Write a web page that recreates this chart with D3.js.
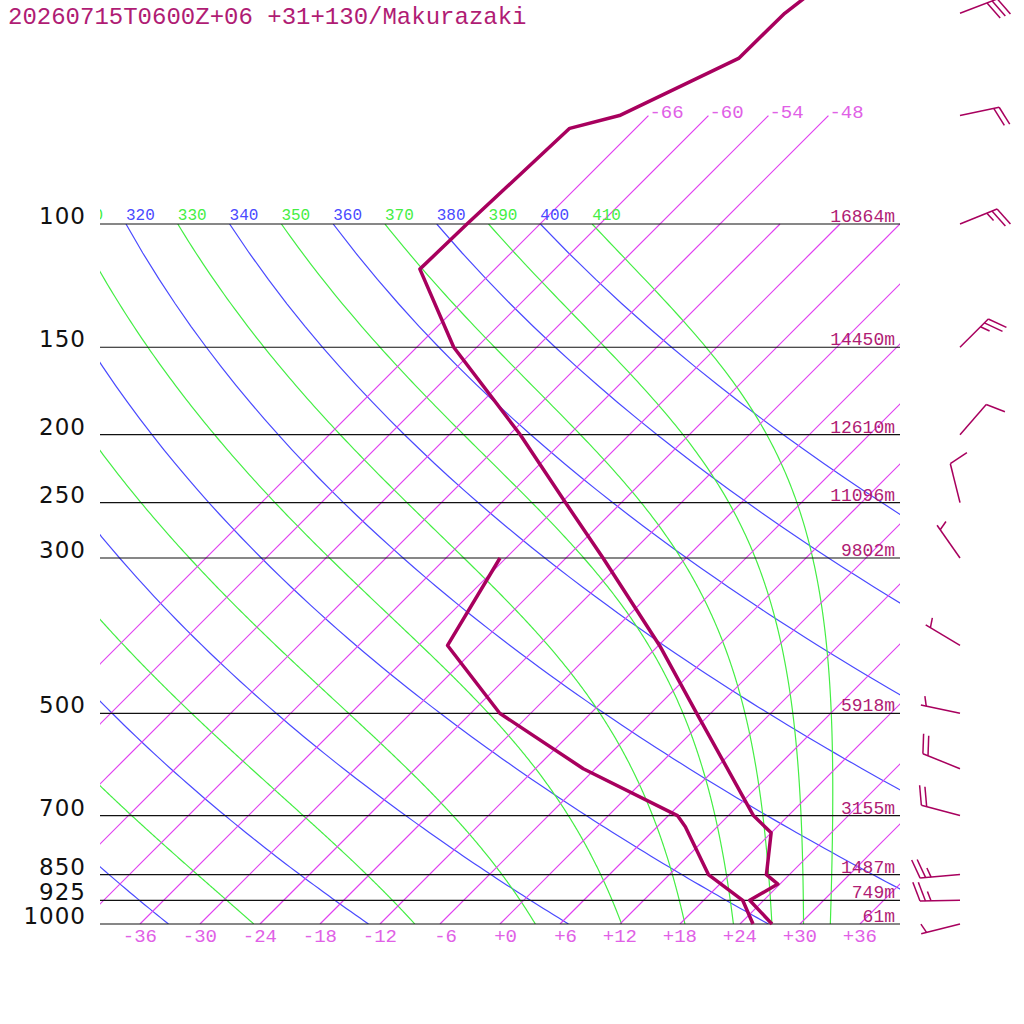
<!DOCTYPE html>
<html>
<head>
<meta charset="utf-8">
<script src="https://cdn.jsdelivr.net/npm/d3@7"></script>
<style>
  body { margin: 0; background: #fff; }
  text { font-family: "Liberation Mono", monospace; }
</style>
</head>
<body>
<div id="chart"></div>
<script>
// title
var title = "20260715T0600Z+06 +31+130/Makurazaki";

// temperature profile (hPa, degC)
var tempP = [1000, 925, 877, 850, 741, 700, 500, 400, 300, 250, 200, 150, 116, 100, 73, 70, 58, 50, 30];
var tempT = [27.2, 22.6, 23.8, 21.7, 18.0, 14.5, -1.4, -11.9, -26.3, -35.6, -46.9, -62.3, -73.5, -73.3, -72.6, -68.9, -62.7, -62.6, -58.0];

// dewpoint profile
var dewP = [1000, 925, 850, 726, 700, 600, 500, 400, 300];
var dewT = [25.3, 21.9, 15.9, 8.8, 6.9, -7.2, -21.1, -33.1, -36.6];

// isobars with their labels and heights
var isobars = [1000, 925, 850, 700, 500, 300, 250, 200, 150, 100];
var heights = ["61m", "749m", "1487m", "3155m", "5918m", "9802m", "11096m", "12610m", "14450m", "16864m"];

// wind barbs
var windP = [50, 70, 100, 150, 200, 250, 300, 400, 500, 600, 700, 850, 925, 1000];
var windDir = [69, 78, 68, 45, 41, 346, 325, 301, 282, 292, 285, 265, 269, 256];
var windSpd = [30, 20, 25, 25, 10, 10, 5, 5, 5, 20, 20, 25, 25, 5];

// grid lines
var isotherms = [-66, -60, -54, -48, -42, -36, -30, -24, -18, -12, -6, 0, 6, 12, 18, 24, 30, 36];
var isoTopLabels = [-66, -60, -54, -48];
var isoBottomLabels = [-36, -30, -24, -18, -12, -6, 0, 6, 12, 18, 24, 30, 36];
var dryTheta = [240, 260, 280, 300, 320, 340, 360, 380, 400];
var moistTheta = [250, 270, 290, 310, 330, 350, 370, 390, 410];

var svgWidth = 1024, svgHeight = 1024;
var plot = { left: 100, right: 900, top: 224, bottom: 924 };

var red = "#a8005e", txtRed = "#b01c74", magenta = "#e040f0", labelPink = "#e060e6", blue = "#4a4aff", green = "#44ee44";

var svg = d3.select("#chart").append("svg")
  .attr("width", svgWidth)
  .attr("height", svgHeight)
  .style("background", "#fff");

// log pressure scale and temperature scale (skewed 45 degrees)
var y = d3.scaleLog().domain([1000, 100]).range([plot.bottom, plot.top]);
var x = d3.scaleLinear().domain([-40, 40]).range([plot.left, plot.right]);
function sx(t, p) { return x(t) + (y(1000) - y(p)); }

var pathGen = d3.line()
  .x(d => sx(d.t, d.p))
  .y(d => y(d.p));

var defs = svg.append("defs");
defs.append("clipPath").attr("id", "gridClip")
  .append("rect").attr("x", plot.left).attr("y", plot.top).attr("width", plot.right - plot.left).attr("height", plot.bottom - plot.top);
defs.append("clipPath").attr("id", "labelClip")
  .append("rect").attr("x", plot.left).attr("y", 0).attr("width", plot.right - plot.left).attr("height", plot.bottom);

var KAPPA = 0.2857;

// dry adiabat points
function dryPoints(theta) {
  var pts = [];
  for (var p = 100; p <= 1000; p += 10) {
    pts.push({ p: p, t: theta * Math.pow(p / 1000, KAPPA) - 273.15 });
  }
  return pts;
}

// saturated lapse rate dT/dp
function lapse(p, T) {
  var tc = T - 273.15;
  var es = 6.112 * Math.exp(17.67 * tc / (tc + 243.5));
  var rs = 0.622 * es / (p - es);
  return (287.04 * T + 2.501e6 * rs) / (p * (1005.7 + 2.501e6 * 2.501e6 * rs * 0.622 / (287.04 * T * T)));
}

// pseudo adiabat, integrated down from 100 hPa
function moistPoints(theta) {
  var p = 100, T = theta * Math.pow(p / 1000, KAPPA), dp = 2;
  var pts = [{ p: p, t: T - 273.15 }];
  while (p < 1000) {
    var k1 = lapse(p, T);
    var k2 = lapse(p + dp / 2, T + k1 * dp / 2);
    T += k2 * dp;
    p += dp;
    pts.push({ p: p, t: T - 273.15 });
  }
  return pts;
}

var grid = svg.append("g").attr("clip-path", "url(#gridClip)");

// dry adiabats
grid.selectAll("path.dry")
  .data(dryTheta)
  .enter()
  .append("path")
  .attr("class", "dry")
  .attr("d", d => pathGen(dryPoints(d)))
  .style("fill", "none")
  .style("stroke", blue)
  .style("stroke-width", 1.2);

// moist adiabats
grid.selectAll("path.moist")
  .data(moistTheta)
  .enter()
  .append("path")
  .attr("class", "moist")
  .attr("d", d => pathGen(moistPoints(d)))
  .style("fill", "none")
  .style("stroke", green)
  .style("stroke-width", 1.2);

// isotherms, the coldest ones run up to 70 hPa
function isoTop(t) { return isoTopLabels.indexOf(t) >= 0 ? 70 : 100; }

var isoGroup = svg.append("g").attr("clip-path", "url(#labelClip)");
isoGroup.selectAll("path.iso")
  .data(isotherms)
  .enter()
  .append("path")
  .attr("class", "iso")
  .attr("d", d => pathGen([{ p: 1000, t: d }, { p: isoTop(d), t: d }]))
  .style("fill", "none")
  .style("stroke", magenta)
  .style("stroke-width", 1.2);

// isobars
svg.selectAll("line.isobar")
  .data(isobars)
  .enter()
  .append("line")
  .attr("class", "isobar")
  .attr("x1", plot.left)
  .attr("x2", plot.right)
  .attr("y1", d => y(d))
  .attr("y2", d => y(d))
  .style("stroke", "#111")
  .style("stroke-width", 1.2);

// pressure labels
svg.selectAll("text.plabel")
  .data(isobars)
  .enter()
  .append("text")
  .attr("class", "plabel")
  .attr("x", 86)
  .attr("y", d => y(d))
  .attr("text-anchor", "end")
  .style("font-family", "'DejaVu Sans', sans-serif")
  .style("font-size", "23px")
  .style("letter-spacing", "1px")
  .style("fill", "#111")
  .text(d => d);

// height labels
svg.selectAll("text.hlabel")
  .data(isobars)
  .enter()
  .append("text")
  .attr("class", "hlabel")
  .attr("x", 895)
  .attr("y", d => y(d) - 2)
  .attr("text-anchor", "end")
  .style("font-size", "18px")
  .style("fill", txtRed)
  .text((d, i) => heights[i]);

// theta labels above 100 hPa
var thetaLabels = dryTheta.concat(moistTheta)
  .sort((a, b) => a - b)
  .filter(d => sx(d * Math.pow(0.1, KAPPA) - 273.15, 100) > 60);

svg.append("g").attr("clip-path", "url(#labelClip)")
  .selectAll("text")
  .data(thetaLabels)
  .enter()
  .append("text")
  .attr("x", d => sx(d * Math.pow(0.1, KAPPA) - 273.15, 100))
  .attr("y", y(100) - 4)
  .style("font-size", "16px")
  .style("fill", d => dryTheta.indexOf(d) >= 0 ? blue : green)
  .text(d => d);

function fmt(t) { return (t < 0 ? "-" : "+") + Math.abs(t); }

// isotherm labels at the top
svg.selectAll("text.toplabel")
  .data(isoTopLabels)
  .enter()
  .append("text")
  .attr("class", "toplabel")
  .attr("x", d => sx(d, 70) + 1)
  .attr("y", y(70) + 2)
  .style("font-size", "19px")
  .style("fill", labelPink)
  .text(fmt);

// temperature axis labels (3 char wide, centred)
svg.selectAll("text.botlabel")
  .data(isoBottomLabels)
  .enter()
  .append("text")
  .attr("class", "botlabel")
  .attr("x", d => x(d) + 17)
  .attr("y", 942)
  .attr("text-anchor", "end")
  .style("font-size", "19px")
  .style("fill", labelPink)
  .text(fmt);

// sounding lines
var tempData = tempP.map((p, i) => ({ p: p, t: tempT[i] }));
var dewData = dewP.map((p, i) => ({ p: p, t: dewT[i] }));

svg.append("path")
  .attr("d", pathGen(dewData))
  .style("fill", "none")
  .style("stroke", red)
  .style("stroke-width", 3.5)
  .style("stroke-linejoin", "round");

svg.append("path")
  .attr("d", pathGen(tempData))
  .style("fill", "none")
  .style("stroke", red)
  .style("stroke-width", 3.5)
  .style("stroke-linejoin", "round");

// wind barbs
var barbs = svg.append("g")
  .style("stroke", red)
  .style("stroke-width", 1.5)
  .style("fill", "none");

function drawBarb(p, dir, spd) {
  var bx = 960, by = y(p);
  var r = dir * Math.PI / 180;
  var ux = Math.sin(r), uy = -Math.cos(r);
  var ex = bx + 40 * ux, ey = by + 40 * uy;
  barbs.append("line").attr("x1", bx).attr("y1", by).attr("x2", ex).attr("y2", ey);
  var a = 70 * Math.PI / 180;
  var vx = ux * Math.cos(a) - uy * Math.sin(a);
  var vy = ux * Math.sin(a) + uy * Math.cos(a);
  var full = Math.floor(spd / 10), half = spd % 10 >= 5 ? 1 : 0;
  var pos = 0;
  for (var i = 0; i < full; i++) {
    var px = ex - pos * 5.5 * ux, py = ey - pos * 5.5 * uy;
    barbs.append("line").attr("x1", px).attr("y1", py).attr("x2", px + 20 * vx).attr("y2", py + 20 * vy);
    pos++;
  }
  if (half) {
    if (pos === 0) pos = 1;
    var hx = ex - pos * 5.5 * ux, hy = ey - pos * 5.5 * uy;
    barbs.append("line").attr("x1", hx).attr("y1", hy).attr("x2", hx + 10 * vx).attr("y2", hy + 10 * vy);
  }
}

windP.forEach(function(p, i) {
  drawBarb(p, windDir[i], windSpd[i]);
});

// title
svg.append("text")
  .attr("x", 8)
  .attr("y", 24)
  .style("font-size", "24px")
  .style("fill", txtRed)
  .text(title);
</script>
</body>
</html>
